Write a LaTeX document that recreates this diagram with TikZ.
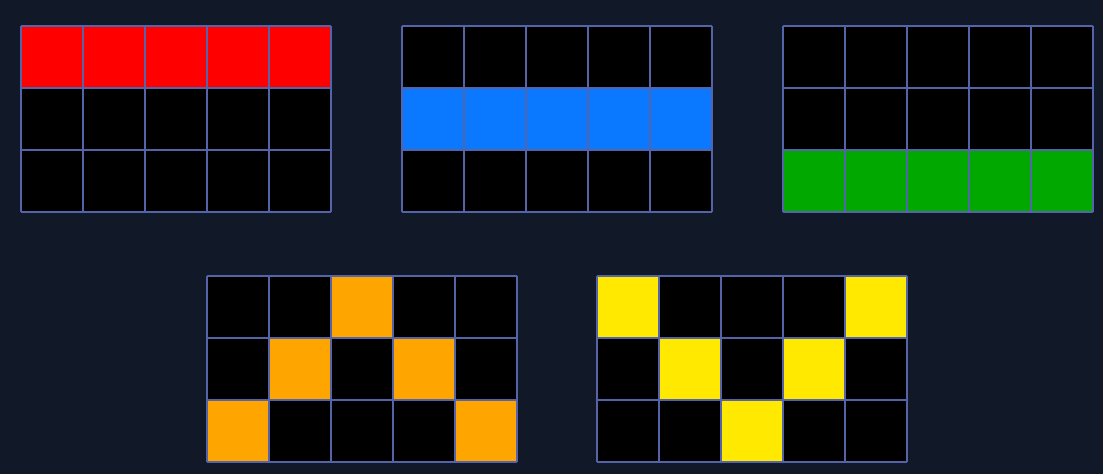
\documentclass[tikz,border=0pt]{standalone}
\definecolor{bgc}{HTML}{111827}
\definecolor{linec}{HTML}{5563A8}
\definecolor{cred}{HTML}{FF0000}
\definecolor{cblue}{HTML}{0A78FF}
\definecolor{cgreen}{HTML}{00A800}
\definecolor{corange}{HTML}{FFA500}
\definecolor{cyellow}{HTML}{FFE900}
\tikzset{gridline/.style={draw=linec,line width=2pt}}
\newcommand{\cellgrid}[4]{%
  \begin{scope}[shift={(#1,#2)}]
    \fill[black] (0,0) rectangle (310,186);
    \foreach \r/\c in {#3} \fill[#4] (\c*62,\r*62) rectangle ++(62,62);
    \foreach \i in {0,...,5} \draw[gridline] (\i*62,0) -- (\i*62,186);
    \foreach \j in {0,...,3} \draw[gridline] (0,\j*62) -- (310,\j*62);
  \end{scope}}
\begin{document}
\begin{tikzpicture}[x=1pt,y=-1pt]
\fill[bgc] (0,0) rectangle (1103,474);
\useasboundingbox (0,0) rectangle (1103,474);
\cellgrid{21}{26}{0/0,0/1,0/2,0/3,0/4}{cred}
\cellgrid{402}{26}{1/0,1/1,1/2,1/3,1/4}{cblue}
\cellgrid{783}{26}{2/0,2/1,2/2,2/3,2/4}{cgreen}
\cellgrid{207}{276}{0/2,1/1,1/3,2/0,2/4}{corange}
\cellgrid{597}{276}{0/0,0/4,1/1,1/3,2/2}{cyellow}
\end{tikzpicture}
\end{document}
